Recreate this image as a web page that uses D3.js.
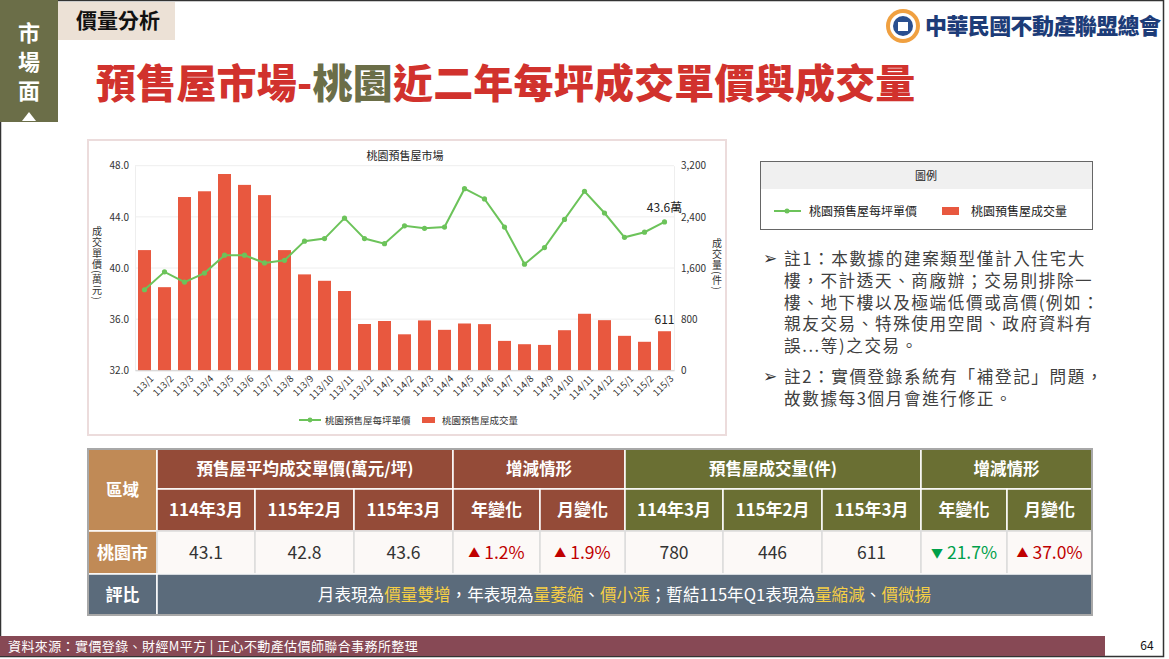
<!DOCTYPE html>
<html>
<head>
<meta charset="utf-8">
<script src="https://cdn.jsdelivr.net/npm/d3@7"></script>
<style>
  body { margin: 0; background: #fff; }
  svg text { font-family: "Noto Sans CJK TC", "Noto Sans", sans-serif; }
  .vtitle { writing-mode: vertical-rl; text-orientation: mixed; }
</style>
</head>
<body>
<svg id="slide" width="1169" height="659"></svg>
<script>
// ---------------- data ----------------
const months = ["113/1","113/2","113/3","113/4","113/5","113/6","113/7","113/8","113/9","113/10","113/11","113/12",
                "114/1","114/2","114/3","114/4","114/5","114/6","114/7","114/8","114/9","114/10","114/11","114/12",
                "115/1","115/2","115/3"];
// 每坪單價 (萬元)
const price = [38.3,39.7,38.9,39.6,41.0,41.0,40.4,40.6,42.1,42.3,43.9,42.3,
               41.9,43.3,43.1,43.2,46.2,45.4,43.2,40.3,41.6,43.8,46.0,44.3,
               42.4,42.8,43.6];
// 成交量 (件)
const volume = [1880,1300,2710,2800,3070,2900,2740,1880,1500,1400,1240,724,
                771,563,780,633,732,722,460,408,397,627,884,784,
                539,446,611];
const priceTicks = [32,36,40,44,48];
const volumeTicks = [0,800,1600,2400,3200];

// table
const tableRegion = "桃園市";
const periodLabels = ["114年3月","115年2月","115年3月"];
const priceValues = ["43.1","42.8","43.6"];
const priceChange = [["up","1.2%"],["up","1.9%"]];
const volumeValues = ["780","446","611"];
const volumeChange = [["down","21.7%"],["up","37.0%"]];
const commentParts = [["月表現為",0],["價量雙增",1],["，年表現為",0],["量萎縮",1],["、",0],["價小漲",1],
                      ["；暫結115年Q1表現為",0],["量縮減",1],["、",0],["價微揚",1]];

const note1 = ["註1：本數據的建案類型僅計入住宅大","樓，不計透天、商廠辦；交易則排除一",
               "樓、地下樓以及極端低價或高價(例如：","親友交易、特殊使用空間、政府資料有","誤...等)之交易。"];
const note2 = ["註2：實價登錄系統有「補登記」問題，","故數據每3個月會進行修正。"];

// ---------------- colours ----------------
const RED = "#d1322d", OLIVE = "#6b6e48", BAR = "#e8583f", LINE = "#6cc35a";
const BROWN = "#944b38", GREEN_H = "#6a6f33", TAN = "#c08a56", SLATE = "#5b6b7b";

const svg = d3.select("#slide");

// ---------------- slide frame & header ----------------
svg.append("rect").attr("x", 0.5).attr("y", 0.5).attr("width", 1163).attr("height", 656)
  .attr("fill", "#fff").attr("stroke", "#333").attr("stroke-width", 1.5);

svg.append("rect").attr("x", 0).attr("y", 0).attr("width", 58).attr("height", 122).attr("fill", OLIVE);
["市","場","面"].forEach((c, i) => {
  svg.append("text").attr("x", 29).attr("y", 41 + i * 29).attr("text-anchor", "middle")
    .attr("fill", "#fff").attr("font-size", 22).attr("font-weight", 700).text(c);
});
svg.append("path").attr("d", "M22,121 L29,112 L36,121 Z").attr("fill", "#fff");

svg.append("rect").attr("x", 58).attr("y", 2).attr("width", 117).attr("height", 38).attr("fill", "#ece1d6");
svg.append("text").attr("x", 118).attr("y", 28).attr("text-anchor", "middle")
  .attr("font-size", 21).attr("font-weight", 700).attr("fill", "#111").text("價量分析");

const title = svg.append("text").attr("x", 96).attr("y", 98)
  .attr("font-size", 40).attr("font-weight", 900).attr("fill", RED).attr("letter-spacing", 0.2);
title.append("tspan").text("預售屋市場-");
title.append("tspan").attr("fill", OLIVE).text("桃園");
title.append("tspan").text("近二年每坪成交單價與成交量");

// logo
const logo = svg.append("g").attr("transform", "translate(903,26)");
logo.append("circle").attr("r", 17).attr("fill", "#f0a040");
logo.append("circle").attr("r", 13).attr("fill", "#fff");
logo.append("circle").attr("r", 10).attr("fill", "#2a4f8f");
logo.append("rect").attr("x", -5).attr("y", -4).attr("width", 10).attr("height", 9).attr("fill", "#fff");
svg.append("text").attr("x", 925).attr("y", 34).attr("font-size", 22).attr("font-weight", 900)
  .attr("fill", "#1d3c78").attr("letter-spacing", -0.6).text("中華民國不動產聯盟總會");

// ---------------- chart ----------------
svg.append("rect").attr("x", 88).attr("y", 140).attr("width", 638).attr("height", 295)
  .attr("fill", "#fff").attr("stroke", "#ecdcdc").attr("stroke-width", 2);

const plot = { left: 135, right: 674, top: 165.7, bottom: 370.3 };
const x = d3.scaleBand().domain(months).range([plot.left, plot.right]).paddingInner(0.35).paddingOuter(0.15);
const yL = d3.scaleLinear().domain([32, 48]).range([plot.bottom, plot.top]);
const yR = d3.scaleLinear().domain([0, 3200]).range([plot.bottom, plot.top]);

svg.append("text").attr("x", 405).attr("y", 160).attr("text-anchor", "middle")
  .attr("font-size", 11).attr("fill", "#222").text("桃園預售屋市場");

// gridlines
svg.append("g").selectAll("line").data(priceTicks).join("line")
  .attr("x1", plot.left).attr("x2", plot.right)
  .attr("y1", d => yL(d)).attr("y2", d => yL(d))
  .attr("stroke", "#eeeeee");

// left axis
const gL = svg.append("g").attr("transform", `translate(${plot.left},0)`)
  .call(d3.axisLeft(yL).tickValues(priceTicks).tickFormat(d3.format(".1f")).tickSize(0).tickPadding(6));
gL.select(".domain").attr("stroke", "#eeeeee");
gL.selectAll("text").attr("font-size", 10).attr("fill", "#333");

// right axis
const gR = svg.append("g").attr("transform", `translate(${plot.right},0)`)
  .call(d3.axisRight(yR).tickValues(volumeTicks).tickFormat(d3.format(",")).tickSize(0).tickPadding(7));
gR.select(".domain").attr("stroke", "#eeeeee");
gR.selectAll("text").attr("font-size", 10).attr("fill", "#333");

// bars
svg.append("g").selectAll("rect").data(volume).join("rect")
  .attr("x", (d, i) => x(months[i])).attr("width", x.bandwidth())
  .attr("y", d => yR(d)).attr("height", d => yR(0) - yR(d))
  .attr("fill", BAR);

// bottom axis
const gX = svg.append("g").attr("transform", `translate(0,${plot.bottom})`)
  .call(d3.axisBottom(x).tickSize(0).tickPadding(4));
gX.select(".domain").attr("stroke", "#d0d0d0");
gX.selectAll("text").attr("font-size", 9.5).attr("fill", "#333")
  .attr("text-anchor", "end").attr("dy", "0.3em")
  .attr("transform", "translate(5,4) rotate(-45)");

// price line
const line = d3.line().x((d, i) => x(months[i]) + x.bandwidth() / 2).y(d => yL(d));
svg.append("path").datum(price).attr("d", line)
  .attr("fill", "none").attr("stroke", LINE).attr("stroke-width", 2);
svg.append("g").selectAll("circle").data(price).join("circle")
  .attr("cx", (d, i) => x(months[i]) + x.bandwidth() / 2).attr("cy", d => yL(d))
  .attr("r", 2.6).attr("fill", LINE);

// end labels
const lastI = months.length - 1;
const lastX = x(months[lastI]) + x.bandwidth() / 2;
svg.append("text").attr("x", lastX).attr("y", yL(price[lastI]) - 10).attr("text-anchor", "middle")
  .attr("font-size", 12).attr("fill", "#222").text(price[lastI].toFixed(1) + "萬");
svg.append("text").attr("x", lastX).attr("y", yR(volume[lastI]) - 7).attr("text-anchor", "middle")
  .attr("font-size", 12).attr("fill", "#222").text(volume[lastI]);

// axis titles (vertical writing)
svg.append("text").attr("class", "vtitle").attr("x", 97).attr("y", 226)
  .attr("font-size", 10).attr("letter-spacing", 1).attr("fill", "#333").text("成交單價(萬元)");
svg.append("text").attr("class", "vtitle").attr("x", 717).attr("y", 238)
  .attr("font-size", 10).attr("letter-spacing", 1).attr("fill", "#333").text("成交量(件)");

// bottom legend
svg.append("line").attr("x1", 299).attr("x2", 321).attr("y1", 420).attr("y2", 420)
  .attr("stroke", LINE).attr("stroke-width", 2);
svg.append("circle").attr("cx", 310).attr("cy", 420).attr("r", 2.4).attr("fill", LINE);
svg.append("text").attr("x", 325).attr("y", 424).attr("font-size", 9.5).attr("fill", "#333").text("桃園預售屋每坪單價");
svg.append("rect").attr("x", 422).attr("y", 417).attr("width", 13).attr("height", 6).attr("fill", BAR);
svg.append("text").attr("x", 442).attr("y", 424).attr("font-size", 9.5).attr("fill", "#333").text("桃園預售屋成交量");

// ---------------- side legend box ----------------
svg.append("rect").attr("x", 760.5).attr("y", 161.5).attr("width", 332).attr("height", 68)
  .attr("fill", "#fff").attr("stroke", "#666");
svg.append("rect").attr("x", 761).attr("y", 162).attr("width", 331).attr("height", 27).attr("fill", "#f0f0f0");
svg.append("text").attr("x", 926).attr("y", 180).attr("text-anchor", "middle")
  .attr("font-size", 11).attr("fill", "#222").text("圖例");
svg.append("line").attr("x1", 774).attr("x2", 801).attr("y1", 211).attr("y2", 211)
  .attr("stroke", LINE).attr("stroke-width", 2);
svg.append("circle").attr("cx", 787).attr("cy", 211).attr("r", 2.5).attr("fill", LINE);
svg.append("text").attr("x", 809).attr("y", 216).attr("font-size", 12).attr("fill", "#222").text("桃園預售屋每坪單價");
svg.append("rect").attr("x", 942).attr("y", 207).attr("width", 17).attr("height", 8).attr("fill", BAR);
svg.append("text").attr("x", 971).attr("y", 216).attr("font-size", 12).attr("fill", "#222").text("桃園預售屋成交量");

// notes
function drawNote(lines, y0) {
  svg.append("text").attr("x", 763).attr("y", y0 - 1).attr("font-size", 17).attr("fill", "#333")
    .style("font-family", "DejaVu Sans").text("➢");
  lines.forEach((t, i) => {
    svg.append("text").attr("x", 784).attr("y", y0 + i * 21.8).attr("font-size", 16.6)
      .attr("letter-spacing", 1.6).attr("fill", "#404040").text(t);
  });
}
drawNote(note1, 265);
drawNote(note2, 383);

// ---------------- table ----------------
const cx = [88,157,255,354,453,540,625,723,822,921,1007,1092];
const ry = [449,489,531,574,615];
const tbl = svg.append("g");
function cell(c0, c1, r0, r1, fill, txt, opts = {}) {
  tbl.append("rect").attr("x", cx[c0]).attr("y", ry[r0])
    .attr("width", cx[c1] - cx[c0]).attr("height", ry[r1] - ry[r0])
    .attr("fill", fill).attr("stroke", opts.stroke || "#fff").attr("stroke-width", 1.5);
  if (txt == null) return null;
  const t = tbl.append("text").attr("x", (cx[c0] + cx[c1]) / 2).attr("y", (ry[r0] + ry[r1]) / 2 + 6)
    .attr("text-anchor", "middle").attr("font-size", opts.size || 16.5)
    .attr("font-weight", opts.bold === false ? 400 : 700).attr("fill", opts.color || "#fff");
  if (typeof txt === "string") t.text(txt);
  return t;
}
cell(0, 1, 0, 2, TAN, "區域");
cell(1, 4, 0, 1, BROWN, "預售屋平均成交單價(萬元/坪)");
cell(4, 6, 0, 1, BROWN, "增減情形");
cell(6, 9, 0, 1, GREEN_H, "預售屋成交量(件)");
cell(9, 11, 0, 1, GREEN_H, "增減情形");
periodLabels.forEach((p, i) => cell(1 + i, 2 + i, 1, 2, BROWN, p, { size: 17 }));
["年變化","月變化"].forEach((p, i) => cell(4 + i, 5 + i, 1, 2, BROWN, p, { size: 17 }));
periodLabels.forEach((p, i) => cell(6 + i, 7 + i, 1, 2, GREEN_H, p, { size: 17 }));
["年變化","月變化"].forEach((p, i) => cell(9 + i, 10 + i, 1, 2, GREEN_H, p, { size: 17 }));

cell(0, 1, 2, 3, TAN, tableRegion, { size: 17 });
const rowOpts = { bold: false, color: "#333", stroke: "#dcdcdc", size: 17.5 };
priceValues.forEach((v, i) => cell(1 + i, 2 + i, 2, 3, "#fcf9f7", v, rowOpts));
volumeValues.forEach((v, i) => cell(6 + i, 7 + i, 2, 3, "#fcf9f7", v, rowOpts));
function changeCell(c, d) {
  const col = d[0] === "up" ? "#c00000" : "#00a04a";
  cell(c, c + 1, 2, 3, "#fcf9f7", null, rowOpts);
  const tx = tbl.append("text").attr("x", (cx[c] + cx[c + 1]) / 2).attr("y", (ry[2] + ry[3]) / 2 + 6)
    .attr("text-anchor", "middle").attr("font-size", 17.5).attr("fill", col);
  tx.append("tspan").attr("font-size", 12).attr("dy", -1).text(d[0] === "up" ? "▲" : "▼");
  tx.append("tspan").attr("dy", 1).attr("dx", 4).text(d[1]);
}
priceChange.forEach((d, i) => changeCell(4 + i, d));
volumeChange.forEach((d, i) => changeCell(9 + i, d));

cell(0, 1, 3, 4, SLATE, "評比", { size: 17 });
const cmt = cell(1, 11, 3, 4, SLATE, [], { bold: false, size: 16.6 });
commentParts.forEach(([s, hl]) => cmt.append("tspan").attr("fill", hl ? "#f6cf45" : "#fff").text(s));

tbl.append("rect").attr("x", cx[0]).attr("y", ry[0]).attr("width", cx[11] - cx[0]).attr("height", ry[4] - ry[0])
  .attr("fill", "none").attr("stroke", "#a8a8a8").attr("stroke-width", 2);

// ---------------- footer ----------------
svg.append("rect").attr("x", 0).attr("y", 636).attr("width", 1105).attr("height", 20).attr("fill", "#874955");
svg.append("text").attr("x", 8).attr("y", 651).attr("font-size", 13).attr("letter-spacing", 0.4).attr("fill", "#fff")
  .text("資料來源：實價登錄、財經M平方 | 正心不動產估價師聯合事務所整理");
svg.append("text").attr("x", 1147).attr("y", 650).attr("text-anchor", "middle")
  .attr("font-size", 12).attr("fill", "#111").text("64");
</script>
</body>
</html>
